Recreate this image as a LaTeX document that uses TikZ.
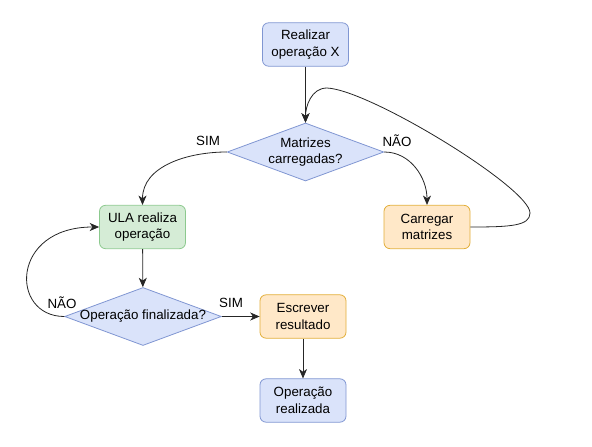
\documentclass[tikz,border=0pt]{standalone}
\usepackage{fontspec}
\setmainfont{Liberation Sans}
\usetikzlibrary{shapes.geometric,arrows.meta}
\definecolor{azulF}{HTML}{DAE3FA}
\definecolor{azulB}{HTML}{8096D2}
\definecolor{verdeF}{HTML}{D5ECD6}
\definecolor{verdeB}{HTML}{8CC98E}
\definecolor{laranjaF}{HTML}{FFE8C8}
\definecolor{laranjaB}{HTML}{E2AE38}
\tikzset{
	caixa/.style={draw, rounded corners=4.5pt, line width=0.6pt, minimum width=64.5pt, minimum height=32.5pt, align=center, font=\fontsize{10}{12.5}\selectfont},
	azul/.style={caixa, fill=azulF, draw=azulB},
	verde/.style={caixa, fill=verdeF, draw=verdeB},
	laranja/.style={caixa, fill=laranjaF, draw=laranjaB},
	decisao/.style={diamond, draw=azulB, fill=azulF, line width=0.6pt, aspect=2.7, inner sep=-1.5pt, minimum width=117.5pt, minimum height=43.5pt, align=center, font=\fontsize{10}{12.5}\selectfont},
	rotulo/.style={font=\fontsize{10}{12.5}\selectfont},
	seta/.style={line width=0.6pt, color=black!85, -{Stealth[length=7pt, width=6pt, inset=2pt]}}
}
\begin{document}
\begin{tikzpicture}[x=0.75pt, y=0.75pt]
			%%%%% START %%%%%
			\useasboundingbox (0, 0) rectangle (592, 446);
			
			\node[azul] (realizar) at (305.5, 401.5) {Realizar\\operação X};
			\node[decisao] (matrizes) at (305.5, 294) {Matrizes\\carregadas?};
			\node[laranja] (carregar) at (427, 219) {Carregar\\matrizes};
			\node[verde] (ula) at (142.5, 219) {ULA realiza\\operação};
			\node[decisao] (finalizada) at (143, 129.5) {Operação finalizada?};
			\node[laranja] (escrever) at (303, 129.5) {Escrever\\resultado};
			\node[azul] (realizada) at (303, 45.5) {Operação\\realizada};
			
			\node[rotulo] (simA) at (208, 305) {SIM};
			\node[rotulo] (naoA) at (397, 305) {NÃO};
			\node[rotulo] (naoB) at (62, 143) {NÃO};
			\node[rotulo] (simB) at (231, 143) {SIM};
			
			\coordinate (laçoD) at (530, 233);
			\coordinate (laçoC) at (327, 358);
			
			\draw[seta] (realizar) -- (matrizes);
			\draw[seta] (matrizes.west) to[out=180, in=90] (ula.north);
			\draw[seta] (matrizes.east) to[out=0, in=90] (carregar.north);
			\draw[seta] (carregar.east) .. controls (510, 219) and (530, 220) .. (laçoD)
				.. controls (530, 258) and (370, 356) .. (laçoC)
				to[out=180, in=90] (matrizes.north);
			
			\draw[seta] (ula) -- (finalizada);
			\draw[seta] (finalizada.west) .. controls (10, 129.5) and (10, 219) .. (ula.west);
			\draw[seta] (finalizada.east) -- (escrever.west);
			\draw[seta] (escrever) -- (realizada);
			
			%%%%% END %%%%%
\end{tikzpicture}
\end{document}
